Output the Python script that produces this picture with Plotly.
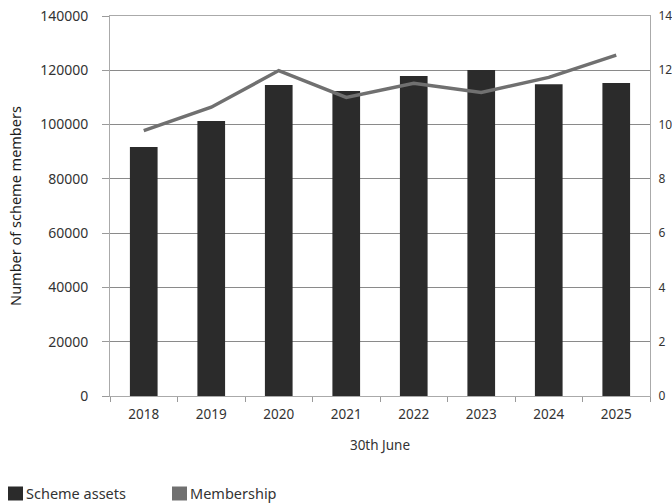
import plotly.graph_objects as go

years = ["2018", "2019", "2020", "2021", "2022", "2023", "2024", "2025"]
scheme_assets = [9.17, 10.13, 11.46, 11.24, 11.79, 12.01, 11.49, 11.53]
membership = [97750, 106400, 119900, 110000, 115200, 111800, 117400, 125600]
left_ticks = [0, 20000, 40000, 60000, 80000, 100000, 120000, 140000]
right_ticks = [0, 2, 4, 6, 8, 10, 12, 14]
legend_names = ["Scheme assets", "Membership"]

BAR = "#2b2b2b"
LINE = "#707070"
FONT = "Noto Sans"
TXT = "#333333"

W, H = 672, 503
ML, MR, MT, MB = 110, 22, 16, 107
PW, PH = W - ML - MR, H - MT - MB


def px2paper_x(px):
    return (px - ML) / PW


def px2paper_y(py):
    return (H - MB - py) / PH


fig = go.Figure()
fig.add_trace(go.Bar(x=years, y=scheme_assets, name=legend_names[0],
                     marker=dict(color=BAR, line=dict(width=0)), width=0.41,
                     yaxis="y", showlegend=False))
fig.add_trace(go.Scatter(x=years, y=membership, name=legend_names[1], mode="lines",
                         line=dict(color=LINE, width=3.5), yaxis="y2",
                         showlegend=False))

# custom legend (square swatches, as in the reference)
legend_items = [(8, legend_names[0], BAR), (172, legend_names[1], LINE)]
for x0, name, col in legend_items:
    fig.add_shape(type="rect", xref="paper", yref="paper",
                  x0=px2paper_x(x0), x1=px2paper_x(x0 + 15),
                  y0=px2paper_y(486.5), y1=px2paper_y(500.5),
                  fillcolor=col, line=dict(width=0))
    fig.add_annotation(xref="paper", yref="paper", x=px2paper_x(x0 + 17),
                       y=px2paper_y(492.5), text=name, showarrow=False,
                       xanchor="left", yanchor="middle", borderpad=0,
                       font=dict(size=14.5, color=TXT, family=FONT))

fig.update_layout(
    width=W, height=H,
    margin=dict(l=ML, r=MR, t=MT, b=MB, autoexpand=False),
    paper_bgcolor="white", plot_bgcolor="white",
    font=dict(family=FONT, size=14, color=TXT),
    barmode="overlay",
    showlegend=False,
    xaxis=dict(type="category", tickson="boundaries", ticks="outside",
               ticklen=5, tickcolor="#9a9a9a", showline=True,
               linecolor="#aaaaaa", linewidth=1, mirror=True,
               showgrid=False, tickfont=dict(size=13.5, color=TXT),
               ticklabelstandoff=6, automargin=False,
               title=dict(text="30th June", font=dict(size=13.5, color=TXT),
                          standoff=18)),
    yaxis=dict(side="right", range=[0, 14], tickvals=right_ticks,
               ticktext=[str(v) for v in right_ticks],
               showgrid=True, gridcolor="#8a8a8a", gridwidth=1,
               showline=True, linecolor="#aaaaaa", ticks="",
               zeroline=False, automargin=False, ticklabelstandoff=5,
               tickfont=dict(size=12, color=TXT)),
    yaxis2=dict(side="left", overlaying="y", range=[0, 140000],
                tickvals=left_ticks, ticktext=[str(v) for v in left_ticks],
                showgrid=False, showline=True, linecolor="#aaaaaa",
                ticks="outside", ticklen=7, tickcolor="#9a9a9a",
                ticklabelstandoff=11, automargin=False,
                zeroline=False, tickfont=dict(size=14, color=TXT),
                title=dict(text="Number of scheme members",
                           font=dict(size=14.5, color="#1e1e1e"), standoff=15)),
)

fig.write_html("out.html",
               config={"displayModeBar": False},
               post_script="document.body.style.margin='0';"
                           "document.body.style.overflow='hidden';")
